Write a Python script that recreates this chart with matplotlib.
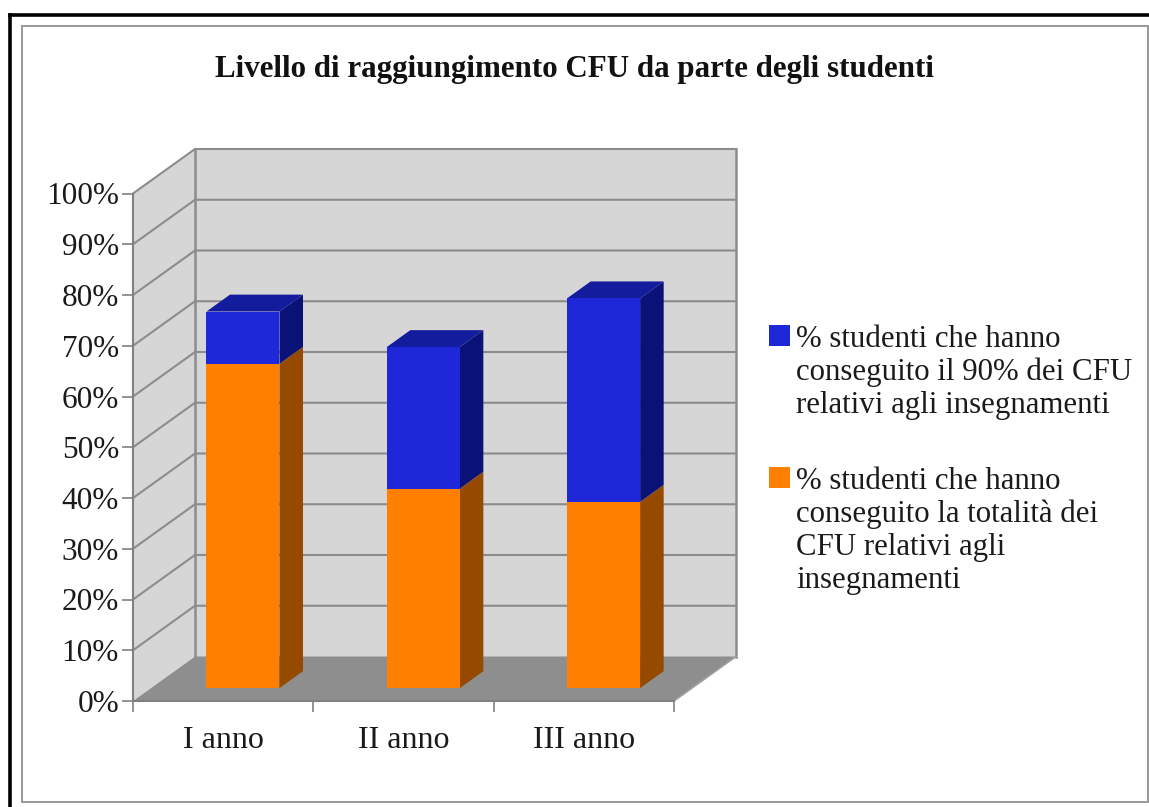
import matplotlib
matplotlib.use("Agg")
import matplotlib.pyplot as plt
from matplotlib.patches import Polygon, Rectangle

# Data
anni = ["I anno", "II anno", "III anno"]
totalita = [63.9, 39.3, 36.7]
novanta = [10.3, 27.9, 40.1]
tick_perc = [0, 10, 20, 30, 40, 50, 60, 70, 80, 90, 100]
titolo = "Livello di raggiungimento CFU da parte degli studenti"
leg_blu = "% studenti che hanno\nconseguito il 90% dei CFU\nrelativi agli insegnamenti"
leg_ara = "% studenti che hanno\nconseguito la totalità dei\nCFU relativi agli\ninsegnamenti"

W, H = 1149, 807
plt.rcParams["font.family"] = ["Liberation Serif", "DejaVu Serif"]

GRIGIO = "#8c8c8c"
MURO = "#d6d6d6"
PAVIMENTO = "#8e8e8e"
BLU = ("#1e28d8", "#141c9e", "#0a1278")
ARANCIO = ("#ff7f00", "#ff7f00", "#964a00")

fig = plt.figure(figsize=(W / 100, H / 100), dpi=100, facecolor="white")


def box(x0, y0, x1, y1):
    # pixel box (top-left origin) to figure fractions
    return [x0 / W, 1 - y1 / H, (x1 - x0) / W, (y1 - y0) / H]


# outer frames
fig.add_artist(plt.Line2D([10 / W, 10 / W], [0, 1 - 15 / H], color="black", lw=2.6))
fig.add_artist(plt.Line2D([10 / W, 1], [1 - 15 / H, 1 - 15 / H], color="black", lw=2.6))
fig.add_artist(Rectangle((22 / W, 1 - 802 / H), 1126 / W, 776 / H, transform=fig.transFigure,
                         fill=False, ec="#999999", lw=1.4))

ax = fig.add_axes(box(133, 193.5, 674, 701))
ax.set_xlim(0, 3)
ax.set_ylim(0, 100)
ax.patch.set_visible(False)

# depth of the whole box, in data units
DX = 62 / (541 / 3)
DY = 44.5 / (507.5 / 100)


def pr(x, y, d):
    return (x + d * DX, y + d * DY)


def faccia(punti, col, ec="none", z=1, lw=0):
    ax.add_patch(Polygon(punti, closed=True, fc=col, ec=ec, lw=lw, zorder=z, clip_on=False))


# walls and floor
faccia([pr(0, 0, 1), pr(3, 0, 1), pr(3, 100, 1), pr(0, 100, 1)], MURO)
faccia([pr(0, 0, 0), pr(0, 0, 1), pr(0, 100, 1), pr(0, 100, 0)], MURO)
faccia([pr(0, 0, 0), pr(3, 0, 0), pr(3, 0, 1), pr(0, 0, 1)], PAVIMENTO)

for t in tick_perc[1:]:
    ax.plot(*zip(pr(0, t, 0), pr(0, t, 1), pr(3, t, 1)), color=GRIGIO, lw=1.5, zorder=2, clip_on=False)
ax.plot(*zip(pr(0, 0, 1), pr(0, 100, 1)), color=GRIGIO, lw=1.8, zorder=2, clip_on=False)
ax.plot(*zip(pr(3, 0, 1), pr(3, 100, 1)), color=GRIGIO, lw=1.8, zorder=2, clip_on=False)
ax.plot(*zip(pr(3, 0, 0), pr(3, 0, 1)), color="#a0a0a0", lw=1.2, zorder=2, clip_on=False)

# stacked bars drawn as oblique boxes
LARG = 73 / (541 / 3)
SPOST = 0.01
D0, D1 = 0.29, 0.67


def blocco(i, base, alto, colori, tappo):
    x0 = i + 0.5 + SPOST - LARG / 2
    x1 = i + 0.5 + SPOST + LARG / 2
    faccia([pr(x1, base, D0), pr(x1, base, D1), pr(x1, alto, D1), pr(x1, alto, D0)], colori[2], z=3)
    if tappo:
        faccia([pr(x0, alto, D0), pr(x1, alto, D0), pr(x1, alto, D1), pr(x0, alto, D1)], colori[1], z=3)
    faccia([pr(x0, base, D0), pr(x1, base, D0), pr(x1, alto, D0), pr(x0, alto, D0)], colori[0], z=4)


for i in range(len(anni)):
    blocco(i, 0, totalita[i], ARANCIO, False)
    blocco(i, totalita[i], totalita[i] + novanta[i], BLU, True)

# axes
for s in ["top", "right"]:
    ax.spines[s].set_visible(False)
for s in ["left", "bottom"]:
    ax.spines[s].set_color("#808080")
    ax.spines[s].set_linewidth(1.5)
    ax.spines[s].set_zorder(5)
ax.set_yticks(tick_perc)
ax.set_yticklabels([f"{t}%" for t in tick_perc], fontsize=22.5, color="#1a1a1a")
ax.set_xticks(range(len(anni) + 1))
ax.set_xticklabels([])
ax.set_xticks([i + 0.5 for i in range(len(anni))], minor=True)
ax.set_xticklabels(anni, minor=True, fontsize=23, color="#1a1a1a")
ax.tick_params(axis="y", length=8, width=1.2, color="#808080", pad=2)
ax.tick_params(axis="x", which="major", length=8, width=1.2, color="#808080")
ax.tick_params(axis="x", which="minor", length=0, pad=18)

fig.text(574.5 / W, 1 - 69 / H, titolo, ha="center", va="center", fontsize=22.3, fontweight="bold", color="#111111")

# legend
fig.add_artist(Rectangle((769 / W, 1 - 346 / H), 21 / W, 21 / H, transform=fig.transFigure, fc=BLU[0], ec="none"))
fig.add_artist(Rectangle((769 / W, 1 - 488 / H), 21 / W, 21 / H, transform=fig.transFigure, fc=ARANCIO[0], ec="none"))
fig.text(796 / W, 1 - 325 / H, leg_blu, ha="left", va="top", fontsize=22.2, linespacing=1.17, color="#1a1a1a")
fig.text(796 / W, 1 - 467 / H, leg_ara, ha="left", va="top", fontsize=22.2, linespacing=1.17, color="#1a1a1a")

fig.savefig("out.png", dpi=100)
